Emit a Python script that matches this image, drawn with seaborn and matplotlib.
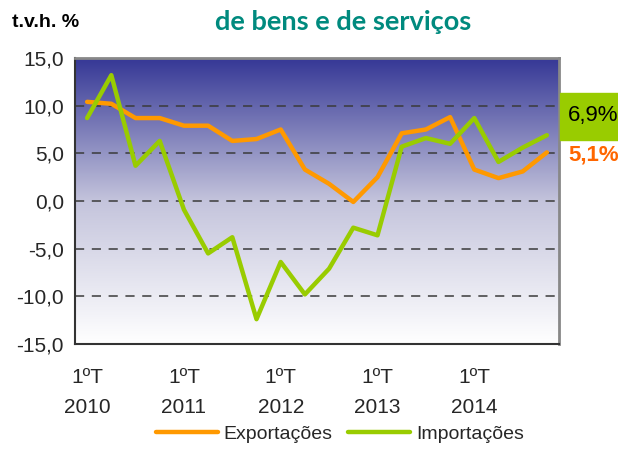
import numpy as np
import pandas as pd
import matplotlib
matplotlib.use("Agg")
import matplotlib.pyplot as plt
from matplotlib.colors import LinearSegmentedColormap
import seaborn as sns

# quarterly data, 2010 Q1 .. 2014 Q4
quarters = [f"{y}Q{q}" for y in range(2010, 2015) for q in range(1, 5)]
exportacoes = [10.4, 10.2, 8.7, 8.7, 7.9, 7.9, 6.3, 6.5, 7.5, 3.3,
               1.8, -0.1, 2.5, 7.1, 7.5, 8.8, 3.3, 2.4, 3.1, 5.1]
importacoes = [8.7, 13.2, 3.7, 6.3, -0.9, -5.5, -3.8, -12.4, -6.4, -9.8,
               -7.1, -2.8, -3.6, 5.7, 6.6, 6.0, 8.7, 4.1, 5.6, 6.9]
year_labels = ["1ºT\n2010", "1ºT\n2011", "1ºT\n2012", "1ºT\n2013", "1ºT\n2014"]
y_ticks = [-15, -10, -5, 0, 5, 10, 15]

sns.set_style("white")
plt.rcParams["font.family"] = ["Liberation Sans", "DejaVu Sans"]

df = pd.DataFrame({
    "idx": list(range(len(quarters))) * 2,
    "valor": exportacoes + importacoes,
    "serie": ["Exportações"] * len(quarters) + ["Importações"] * len(quarters),
})

fig = plt.figure(figsize=(6.18, 4.5), dpi=100)
ax = fig.add_axes([0.1214, 0.2356, 0.7831, 0.6355])

# gradient background
cmap = LinearSegmentedColormap.from_list("bg", ["#ffffff", "#c4c4dc", "#363896"])
grad = np.linspace(0, 1, 256).reshape(-1, 1)
ax.imshow(grad, cmap=cmap, origin="lower", aspect="auto",
          extent=[-0.5, len(quarters) - 0.5, -15, 15], zorder=0)

for v in [-10, -5, 0, 5, 10]:
    ax.axhline(v, color="#3a3a3a", lw=1.1, ls=(0, (6, 5)), zorder=1)

sns.lineplot(data=df, x="idx", y="valor", hue="serie",
             palette={"Exportações": "#ff9900", "Importações": "#99cc00"},
             lw=3.2, ax=ax, zorder=3, legend=False)

ax.set_xlim(-0.5, len(quarters) - 0.5)
ax.set_ylim(-15, 15)
ax.set_yticks(y_ticks)
ax.set_yticklabels([f"{v:.1f}".replace(".", ",") for v in y_ticks], fontsize=15)
ax.set_xticks([0, 4, 8, 12, 16])
ax.set_xticklabels(year_labels, fontsize=15, linespacing=1.75)
ax.set_xticks(np.arange(-0.5, len(quarters)), minor=True)
ax.tick_params(axis="x", which="major", length=0, pad=17)
ax.tick_params(axis="x", which="minor", length=5, width=1, color="#333333", direction="out")
ax.tick_params(axis="y", length=5, width=1, color="#333333", direction="out", pad=3)
ax.set_xlabel("")
ax.set_ylabel("")

for side in ["left", "bottom"]:
    ax.spines[side].set_color("#333333")
    ax.spines[side].set_linewidth(1.5)
for side in ["top", "right"]:
    ax.spines[side].set_color("#888888")
    ax.spines[side].set_linewidth(2)
    ax.spines[side].set_visible(True)

# header texts
fig.text(0.02, 0.951, "t.v.h. %", fontsize=14, fontweight="bold", color="black",
         ha="left", va="center")
fig.text(0.555, 0.952, "de bens e de serviços", fontsize=19.5, fontweight="bold",
         color="#008a7e", ha="center", va="center", family=["Lato", "DejaVu Sans"])

# end value labels
fig.patches.append(plt.Rectangle((560 / 618, 1 - 140 / 450), 60 / 618, 47 / 450,
                                 transform=fig.transFigure, color="#99cc00", zorder=0))
fig.text(593 / 618, 1 - 116 / 450, "6,9%", fontsize=16, color="black",
         ha="center", va="center")
fig.text(594 / 618, 1 - 155 / 450, "5,1%", fontsize=16, fontweight="bold",
         color="#ff6600", ha="center", va="center")

# legend
handles = [plt.Line2D([], [], color="#ff9900", lw=3.2),
           plt.Line2D([], [], color="#99cc00", lw=3.2)]
fig.legend(handles, ["Exportações", "Importações"], loc="center",
           bbox_to_anchor=(0.55, 0.035), ncol=2, frameon=False, fontsize=14,
           handlelength=3.2, columnspacing=0.8, handletextpad=0.3,
           borderpad=0.1)

fig.savefig("out.png", dpi=100)
